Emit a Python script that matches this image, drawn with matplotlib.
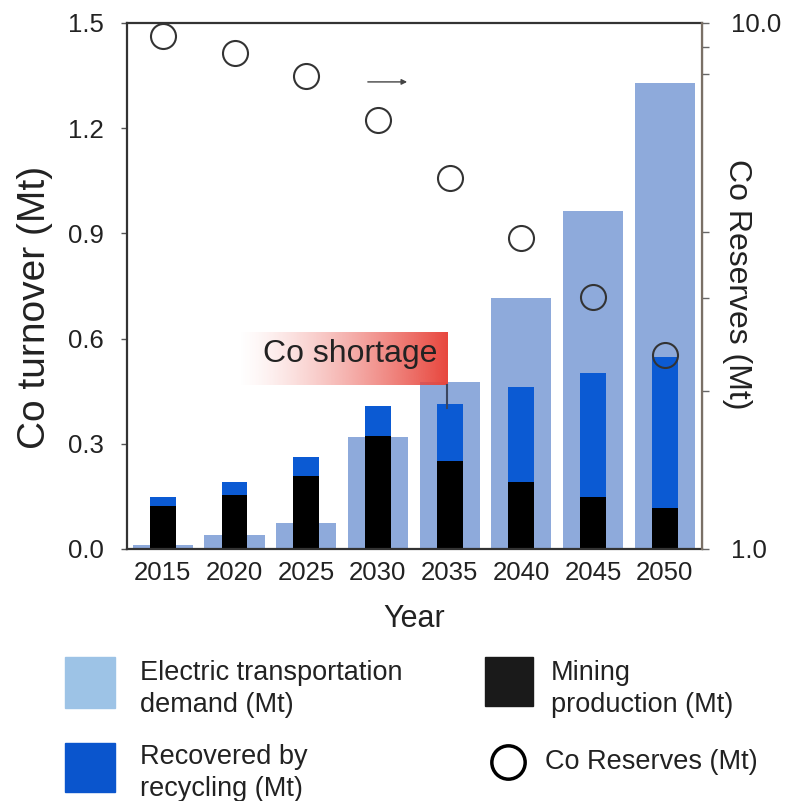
import numpy as np
import matplotlib
matplotlib.use("Agg")
import matplotlib.pyplot as plt
from matplotlib.colors import to_rgb
from matplotlib.lines import Line2D
from matplotlib.patches import Rectangle
from matplotlib.ticker import FormatStrFormatter, NullFormatter

years = [2015, 2020, 2025, 2030, 2035, 2040, 2045, 2050]
demand = [0.012, 0.04, 0.075, 0.318, 0.475, 0.715, 0.965, 1.33]      # Mt
mining = [0.123, 0.155, 0.208, 0.322, 0.251, 0.191, 0.148, 0.117]    # Mt
recycling = [0.025, 0.036, 0.054, 0.086, 0.162, 0.271, 0.354, 0.43]  # Mt
reserves = [9.45, 8.77, 7.93, 6.54, 5.07, 3.90, 3.01, 2.34]          # Mt, log axis

plt.rcParams["font.family"] = ["Liberation Sans", "DejaVu Sans"]
TXT = "#222222"
W, H = 785, 801

fig = plt.figure(figsize=(W / 100, H / 100), dpi=100)
ax = fig.add_axes([127 / W, 1 - 549 / H, 575 / W, 526 / H])

x = np.arange(len(years))
ax.bar(x, demand, width=0.84, color="#8eaadb", zorder=1)
ax.bar(x, mining, width=0.36, color="black", zorder=2)
ax.bar(x, recycling, width=0.36, bottom=mining, color="#0b5ad3", zorder=2)

ax.set_xlim(-0.5, 7.52)
ax.set_ylim(0, 1.5)
ax.set_yticks(np.arange(0, 1.51, 0.3))
ax.yaxis.set_major_formatter(FormatStrFormatter("%.1f"))
ax.set_xticks(x, [str(y) for y in years])
ax.tick_params(axis="x", length=0, pad=9, labelsize=18.5, labelcolor=TXT)
ax.tick_params(axis="y", length=4, width=1, pad=13, labelsize=18.5,
               labelcolor=TXT, color="#555555")
for side in ["left", "bottom", "top"]:
    ax.spines[side].set_color("#333333")
    ax.spines[side].set_linewidth(1.6)
ax.set_xlabel("Year", fontsize=22, color=TXT, labelpad=13)
ax.set_ylabel("Co turnover (Mt)", fontsize=28, color=TXT)
ax.yaxis.set_label_coords(-0.128, 0.46)

# "Co shortage" callout with a white-to-red fade
x0, x1, y0, y1 = 1.03, 3.97, 0.468, 0.619
t = np.linspace(0, 1, 256)
grad = np.zeros((1, 256, 4))
grad[..., :3] = to_rgb("#e8463d")
grad[..., 3] = t ** 1.35
ax.imshow(grad, extent=(x0, x1, y0, y1), aspect="auto", origin="lower",
          interpolation="bicubic", zorder=3)
ax.text(2.61, 0.557, "Co shortage", ha="center", va="center",
        fontsize=23, color=TXT, zorder=4)
ax.plot([x1, x1], [y0, mining[4] + recycling[4] - 0.01],
        color="#3b4660", lw=1.5, zorder=4)
ax.set_xlim(-0.5, 7.52)
ax.set_ylim(0, 1.5)

# reserves on a log scale at the right
ax2 = ax.twinx()
ax2.set_yscale("log")
ax2.set_ylim(1, 10)
ax2.set_yticks([1, 10], ["1.0", "10.0"])
ax2.set_yticks([2, 3, 4, 8, 9], minor=True)
ax2.yaxis.set_minor_formatter(NullFormatter())
ax2.tick_params(axis="y", which="both", length=5, width=1, pad=16,
                labelsize=18.5, labelcolor=TXT, color="#666666")
ax2.spines["right"].set_color("#7a7066")
ax2.spines["right"].set_linewidth(1.6)
ax2.spines["left"].set_visible(False)
ax2.spines["top"].set_visible(False)
ax2.spines["bottom"].set_visible(False)
ax2.plot(x, reserves, "o", ms=18, mfc="none", mec="#333333", mew=1.5)
ax2.set_ylabel("Co Reserves (Mt)", fontsize=23, color=TXT, rotation=270)
ax2.yaxis.set_label_coords(1.087, 0.504)
ax2.annotate("", xy=(0.492, 0.888), xytext=(0.414, 0.888),
             xycoords="axes fraction",
             arrowprops=dict(arrowstyle="-|>", color="#444444", lw=1,
                             mutation_scale=8))


# key below the plot, laid out in figure pixels
def fx(px):
    return px / W


def fy(py):
    return 1 - py / H


def key_box(left, top, w, h, color):
    fig.add_artist(Rectangle((fx(left), fy(top + h)), w / W, h / H,
                             color=color, transform=fig.transFigure))


def key_text(left, yc, s):
    fig.text(fx(left), fy(yc), s, ha="left", va="center", fontsize=19.5,
             color=TXT, linespacing=1.25)


key_box(65, 657, 50, 51, "#9dc3e6")
key_text(140, 689, "Electric transportation\ndemand (Mt)")
key_box(65, 743, 50, 49, "#0a55cd")
key_text(140, 773, "Recovered by\nrecycling (Mt)")
key_box(485, 657, 48, 49, "#1a1a1a")
key_text(551, 689, "Mining\nproduction (Mt)")
fig.add_artist(Line2D([fx(508)], [fy(762)], marker="o", ls="none", ms=24,
                      mfc="none", mec="black", mew=2.5,
                      transform=fig.transFigure))
key_text(545, 762, "Co Reserves (Mt)")

fig.savefig("out.png", dpi=100)
